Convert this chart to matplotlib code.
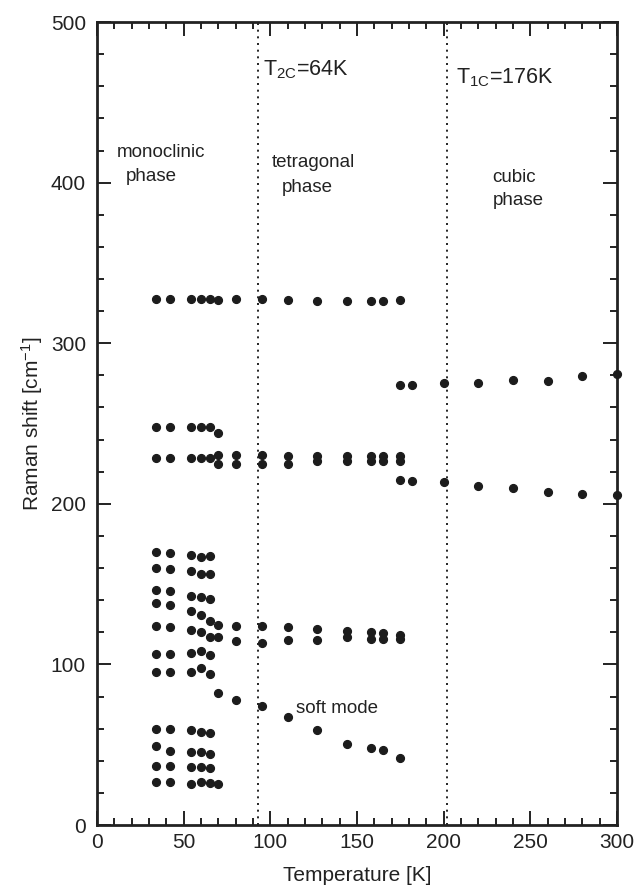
import numpy as np
import matplotlib
matplotlib.use("Agg")
import matplotlib.pyplot as plt
from matplotlib.ticker import MultipleLocator

plt.rcParams['font.family'] = ['Liberation Sans', 'DejaVu Sans']
plt.rcParams['mathtext.default'] = 'regular'

# Raman shifts [cm^-1] read per temperature column [K]
mono_T = [34, 42, 54, 60, 65, 70]
mono_shifts = [
    [327.3, 248.1, 228.3, 169.8, 160.0, 146.5, 138.2, 124.1, 106.7, 95.5, 59.8, 49.4, 36.9, 26.8],
    [327.3, 248.1, 228.3, 169.4, 159.4, 145.7, 137.2, 123.1, 106.7, 95.1, 59.8, 45.9, 36.9, 26.8],
    [327.3, 248.1, 228.3, 168.3, 158.4, 142.6, 133.1, 121.4, 107.1, 95.1, 59.2, 45.3, 36.1, 25.7],
    [327.3, 248.1, 228.3, 167.1, 156.1, 141.7, 131.0, 120.4, 108.1, 97.6, 58.1, 45.3, 36.1, 26.6],
    [327.3, 248.1, 228.8, 167.7, 156.1, 140.5, 126.8, 117.1, 106.0, 94.0, 57.3, 44.0, 35.3, 26.3],
    [327.0, 244.0, 230.4, 224.6, 124.5, 117.1, 82.2, 25.5],
]

tetra_T = [80, 95, 110, 127, 144, 158, 165, 175]
tetra_shifts = [
    [327.3, 230.4, 224.6, 124.1, 114.8, 78.0],
    [327.3, 230.4, 224.5, 123.7, 113.6, 74.3],
    [327.0, 230.0, 224.5, 123.5, 115.2, 67.4],
    [326.4, 229.9, 226.8, 122.0, 115.5, 59.2],
    [326.4, 229.9, 226.8, 121.0, 116.8, 50.7],
    [326.4, 229.9, 226.8, 120.0, 115.8, 47.7],
    [326.4, 229.9, 226.8, 119.4, 115.8, 46.7],
    [327.0, 274.0, 229.9, 226.8, 215.0, 118.3, 115.6, 41.5],
]

cubic_T = [182, 200, 220, 240, 260, 280, 300]
cubic_upper = [274.0, 275.0, 275.4, 276.8, 276.4, 279.6, 280.6]
cubic_lower = [214.3, 213.3, 211.0, 210.0, 207.3, 206.3, 205.5]

# positions of the transition markers on the temperature axis
t2c_line = 93
t1c_line = 202


def main():
    xs, ys = [], []
    for T, vals in zip(mono_T + tetra_T, mono_shifts + tetra_shifts):
        xs += [T] * len(vals)
        ys += vals
    xs += cubic_T + cubic_T
    ys += cubic_upper + cubic_lower

    fig = plt.figure(figsize=(6.34, 8.96), dpi=100)
    ax = fig.add_axes([0.153, 0.0792, 0.82, 0.8962])

    ax.plot(xs, ys, 'o', color='#1c1c1c', markersize=5.6, clip_on=False, zorder=3)

    ax.axvline(t2c_line, color='k', ls=(0, (1.2, 2.8)), lw=1.2)
    ax.axvline(t1c_line, color='k', ls=(0, (1.2, 2.8)), lw=1.2)

    ax.set_xlim(0, 300)
    ax.set_ylim(0, 500)
    ax.xaxis.set_major_locator(MultipleLocator(50))
    ax.xaxis.set_minor_locator(MultipleLocator(10))
    ax.yaxis.set_major_locator(MultipleLocator(100))
    ax.yaxis.set_minor_locator(MultipleLocator(20))
    ax.tick_params(which='both', direction='in', top=True, right=True,
                   width=1.4, colors='#222222', labelcolor='#222222')
    ax.tick_params(which='major', length=10, labelsize=15)
    ax.tick_params(axis='x', which='major', pad=6)
    ax.tick_params(axis='y', which='major', pad=8)
    ax.tick_params(which='minor', length=5)
    for s in ax.spines.values():
        s.set_linewidth(2)
        s.set_color('#222222')

    ax.set_xlabel("Temperature [K]", fontsize=15, labelpad=10, color='#222222')
    ax.set_ylabel("Raman shift [cm$^{-1}$]", fontsize=15, labelpad=4, color='#222222')

    tk = dict(fontsize=13.5, color='#222222', va='baseline', ha='left')
    ax.text(11.4, 416, "monoclinic", **tk)
    ax.text(16.7, 401, "phase", **tk)
    ax.text(100.8, 409.5, "tetragonal", **tk)
    ax.text(106.6, 394.3, "phase", **tk)
    ax.text(228.3, 400.5, "cubic", **tk)
    ax.text(228.3, 386, "phase", **tk)
    ax.text(115, 70, "soft mode", **tk)

    tl = dict(fontsize=15.5, color='#222222', va='baseline', ha='left')
    ax.text(96, 467, "T$_{2C}$=64K", **tl)
    ax.text(207.2, 461.8, "T$_{1C}$=176K", **tl)

    fig.savefig("out.png", dpi=100)


if __name__ == "__main__":
    main()
